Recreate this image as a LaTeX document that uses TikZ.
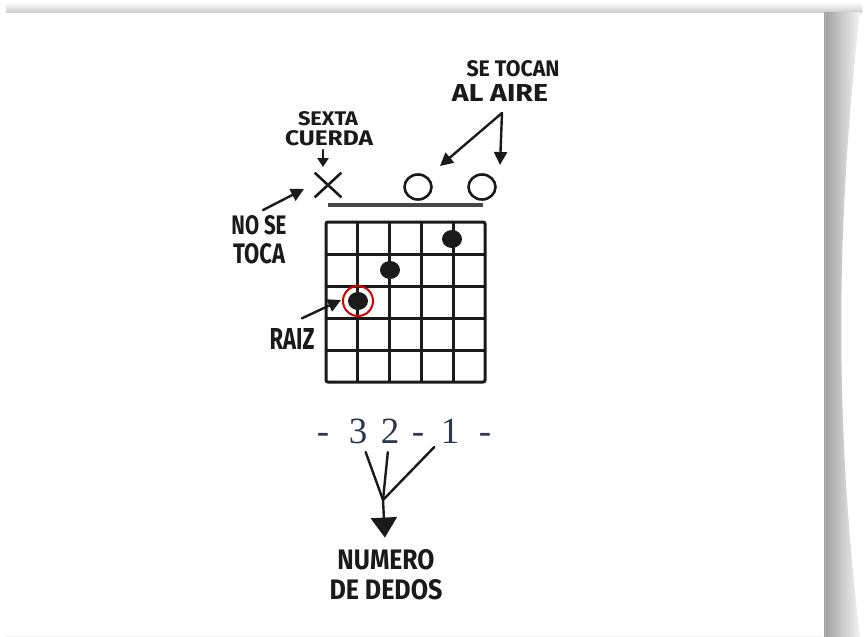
\documentclass[tikz,border=0pt]{standalone}
\usepackage{fontspec}
\usetikzlibrary{arrows.meta,shapes.geometric,shapes.misc}
\newfontfamily\hand{Fira Sans}
\newfontfamily\digitfont{Liberation Serif}
\newcommand\hw[3]{\resizebox{#1pt}{#2pt}{\hand\bfseries #3}}
\definecolor{ink}{HTML}{1A1A1A}
\definecolor{numink}{HTML}{2E3652}
\begin{document}
\begin{tikzpicture}[x=1pt,y=-1pt,
  lbl/.style={inner sep=0pt, text=ink},
  pen/.style={draw=ink, line width=2.4pt, line cap=round},
  arr/.style={pen, -{Triangle[length=13pt,width=13pt]}},
  num/.style={inner sep=0pt, anchor=base, font=\digitfont\fontsize{37}{37}\selectfont, text=numink},
  dot/.style={ellipse, fill=ink, minimum width=20pt, minimum height=18pt, inner sep=0pt},
  openstr/.style={ellipse, draw=ink, line width=2.6pt, minimum width=27pt, minimum height=25pt, inner sep=0pt}]
% page and shadows
\fill[white] (0,0) rectangle (868,637);
\useasboundingbox (0,0) rectangle (868,637);
\shade[top color=white, bottom color=gray!38] (6,2) rectangle (862,12);
\shade[left color=gray!75, right color=gray!8]
  (824,12) -- (860,12) .. controls (836,220) and (834,420) .. (860,637) -- (824,637) -- cycle;
\draw[gray!60, line width=1pt] (825,12) -- (825,637);
\draw[gray!12, line width=1pt] (6,636) -- (823,636);
% nut
\draw[draw=ink!80, line width=4pt] (328,205) -- (483,205);
% grid
\draw[draw=ink, line width=3pt, rounded corners=2pt] (326,222) rectangle (485,382);
\foreach \i in {1,...,4}{
  \draw[draw=ink, line width=3pt] (326+31.8*\i,222) -- (326+31.8*\i,382);
  \draw[draw=ink, line width=3pt] (326,222+32*\i) -- (485,222+32*\i);
}
% dots
\node[dot] (d1) at (452,239) {};
\node[dot] (d2) at (390,270) {};
\node[dot] (d3) at (358,301) {};
\node[circle, draw=red!85!black, line width=2pt, minimum size=30pt, inner sep=0pt] (root) at (358,301) {};
% open / muted strings
\node[cross out, draw=ink, line width=2.6pt, minimum width=24pt, minimum height=22pt, inner sep=0pt] (xm) at (328,185) {};
\node[openstr] (o1) at (418,187) {};
\node[openstr] (o2) at (482,187) {};
% labels
\node[lbl] (setocan) at (513,69) {\hw{93}{16}{SE TOCAN}};
\node[lbl] (alaire) at (500,93) {\hw{96}{17}{AL AIRE}};
\node[lbl] (sexta) at (328,119) {\hw{60}{14}{SEXTA}};
\node[lbl] (cuerda) at (329,138) {\hw{88}{15}{CUERDA}};
\node[lbl] (nose) at (259,225) {\hw{55}{19}{NO SE}};
\node[lbl] (toca) at (259,254) {\hw{52}{20}{TOCA}};
\node[lbl] (raiz) at (292,339) {\hw{45}{21}{RAIZ}};
\node[lbl] (numero) at (386,560) {\hw{97}{20}{NUMERO}};
\node[lbl] (dedos) at (386,590) {\hw{113}{20}{DE DEDOS}};
% finger numbers
\node[num] (s1) at (323,443) {-};
\node[num] (s2) at (358,443) {3};
\node[num] (s3) at (390,443) {2};
\node[num] (s4) at (418,443) {-};
\node[num] (s5) at (450,443) {1};
\node[num] (s6) at (485,443) {-};
% connector end points
\coordinate (fork) at (502,113);
\coordinate (ao1) at (440,166);
\coordinate (ao2) at (500,165);
\coordinate (ax) at (323,167);
\coordinate (anose) at (304,189);
\coordinate (araiz) at (341,300);
\coordinate (meet) at (383,500);
% arrows
\draw[arr] (fork) -- (ao1);
\draw[arr] (fork) -- (ao2);
\draw[pen, -{Triangle[length=9pt,width=11pt]}] (cuerda) ++(-6,12) -- (ax);
\draw[arr] (nose.north) ++(4,-5) -- (anose);
\draw[arr] (raiz.north) ++(10,-10) -- (araiz);
\draw[pen, shorten <=9pt] (s2) -- (meet);
\draw[pen, shorten <=9pt] (s3) -- (meet);
\draw[pen, shorten <=9pt] (s5) -- (meet);
\draw[pen, -{Triangle[length=20pt,width=26pt]}, shorten >=12pt] (meet) -- (numero);
\end{tikzpicture}
\end{document}
